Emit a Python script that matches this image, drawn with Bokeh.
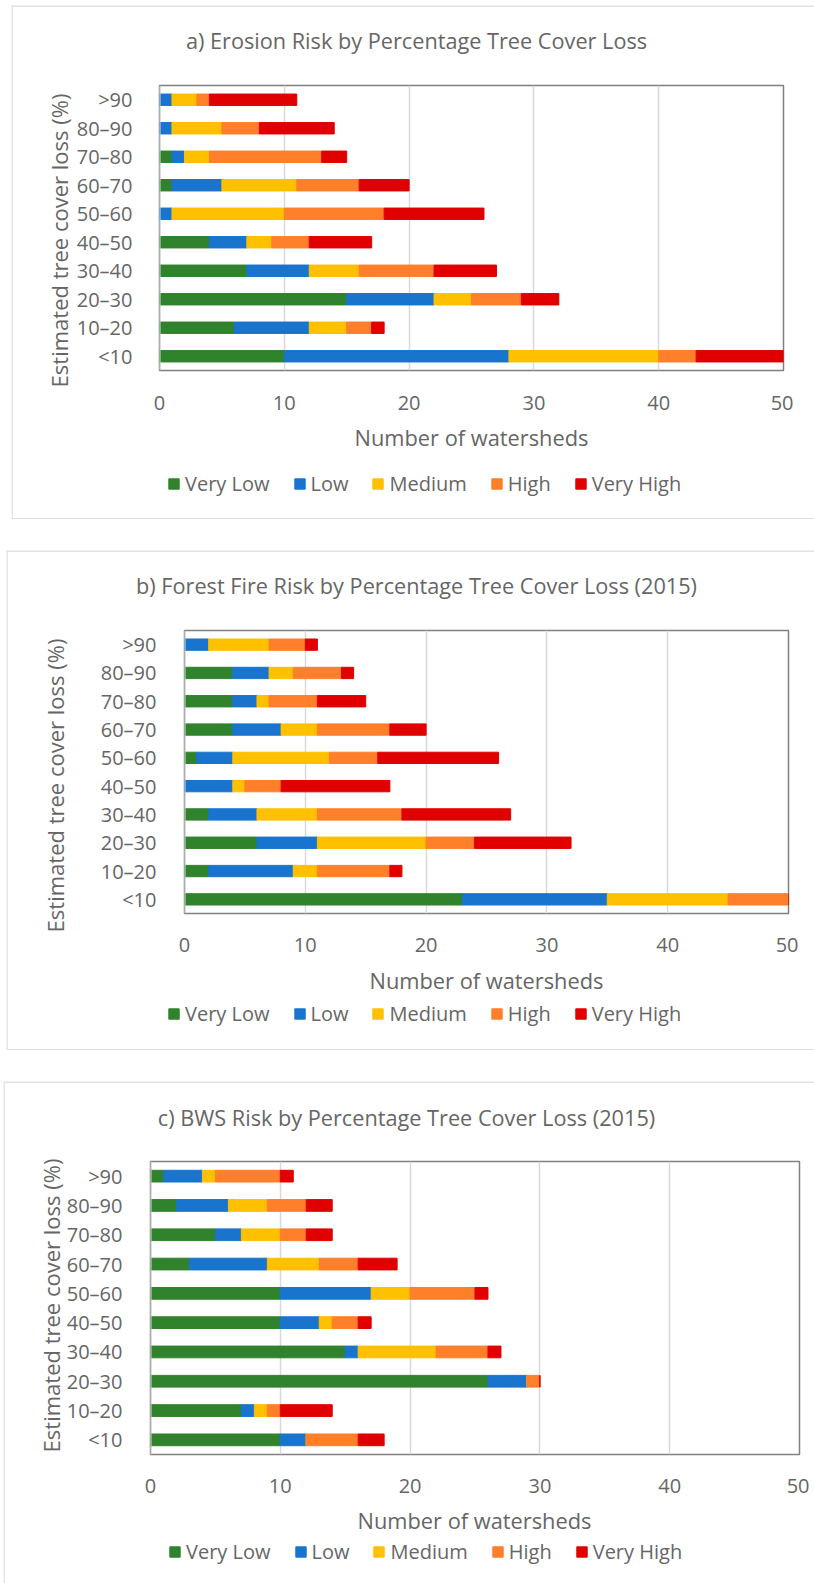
import math
from bokeh.plotting import figure
from bokeh.models import (Range1d, FixedTicker, Legend, LegendItem, Span, Label,
                          ColumnDataSource)
from bokeh.embed import file_html
from bokeh.resources import INLINE

# ---------------- data ----------------
cats = ["<10", "10\u201320", "20\u201330", "30\u201340", "40\u201350",
        "50\u201360", "60\u201370", "70\u201380", "80\u201390", ">90"]
levels = ["Very Low", "Low", "Medium", "High", "Very High"]
colors = ["#31822C", "#1874CD", "#FFC000", "#FF7F2A", "#E00000"]
x_ticks = [0, 10, 20, 30, 40, 50]

erosion_very_low = [10, 6, 15, 7, 4, 0, 1, 1, 0, 0]
erosion_low = [18, 6, 7, 5, 3, 1, 4, 1, 1, 1]
erosion_medium = [12, 3, 3, 4, 2, 9, 6, 2, 4, 2]
erosion_high = [3, 2, 4, 6, 3, 8, 5, 9, 3, 1]
erosion_very_high = [7, 1, 3, 5, 5, 8, 4, 2, 6, 7]

fire_very_low = [23, 2, 6, 2, 0, 1, 4, 4, 4, 0]
fire_low = [12, 7, 5, 4, 4, 3, 4, 2, 3, 2]
fire_medium = [10, 2, 9, 5, 1, 8, 3, 1, 2, 5]
fire_high = [5, 6, 4, 7, 3, 4, 6, 4, 4, 3]
fire_very_high = [0, 1, 8, 9, 9, 10, 3, 4, 1, 1]

bws_very_low = [10, 7, 26, 15, 10, 10, 3, 5, 2, 1]
bws_low = [2, 1, 3, 1, 3, 7, 6, 2, 4, 3]
bws_medium = [0, 1, 0, 6, 1, 3, 4, 3, 3, 1]
bws_high = [4, 1, 1, 4, 2, 5, 3, 2, 3, 5]
bws_very_high = [2, 4, 0, 1, 1, 1, 3, 2, 2, 1]

title_a = "a) Erosion Risk by Percentage Tree Cover Loss"
title_b = "b) Forest Fire Risk by Percentage Tree Cover Loss (2015)"
title_c = "c) BWS Risk by Percentage Tree Cover Loss (2015)"
x_title = "Number of watersheds"
y_title = "Estimated tree cover loss (%)"

FONT = "Open Sans"
TXT = "#666666"
GRID = "#d9d9d9"

FG_L, FG_R, FG_T, FG_B = 100, 10, 10, 60


def abs_style(left, top):
    return {"position": "absolute", "left": f"{left}px", "top": f"{top}px"}


def make_bg(box, title, title_c, xt_c, yt_c, leg_pos, bottom_line=True):
    """Panel frame: border lines, titles and legend (pixel coordinates)."""
    bx, by, bw, bh = box
    bg = figure(width=bw, height=bh, x_range=Range1d(0, bw),
                y_range=Range1d(bh, 0), x_axis_location=None,
                y_axis_location=None, min_border=0, output_backend="svg",
                toolbar_location=None, title=None)
    bg.grid.visible = False
    bg.outline_line_color = None
    bg.background_fill_color = "white"
    bg.border_fill_color = "white"
    bg.add_layout(Span(location=0.5, dimension="height", line_color=GRID,
                       line_width=1.3))
    bg.add_layout(Span(location=0.5, dimension="width", line_color=GRID,
                       line_width=1.3))
    if bottom_line:
        bg.add_layout(Span(location=bh - 0.5, dimension="width",
                           line_color=GRID, line_width=1.3))
    bg.add_layout(Label(x=title_c[0] - bx, y=title_c[1] - by, text=title,
                        text_align="center", text_baseline="middle",
                        text_font=FONT, text_font_size="21.7px",
                        text_color=TXT))
    bg.add_layout(Label(x=xt_c[0] - bx, y=xt_c[1] - by, text=x_title,
                        text_align="center", text_baseline="middle",
                        text_font=FONT, text_font_size="21.8px",
                        text_color=TXT))
    bg.add_layout(Label(x=yt_c[0] - bx, y=yt_c[1] - by, text=y_title,
                        text_align="center", text_baseline="middle",
                        angle=math.pi / 2, text_font=FONT,
                        text_font_size="22px", text_color=TXT))
    items = []
    for name, col in zip(levels, colors):
        r = bg.rect(x=[-500], y=[-500], width=1, height=1, color=col)
        items.append(LegendItem(label=name, renderers=[r]))
    lx, lcy = leg_pos
    leg = Legend(items=items, orientation="horizontal",
                 location=(lx - bx, bh - (lcy - by) - 14),
                 glyph_width=13, glyph_height=13, label_standoff=5,
                 spacing=23, padding=0, margin=0, border_line_color=None,
                 background_fill_alpha=0, label_text_font=FONT,
                 label_text_font_size="20px", label_text_color=TXT,
                 label_height=28)
    bg.add_layout(leg)
    bg.styles = abs_style(bx, by)
    return bg


def make_fg(frame, series, ystand, xstand):
    fx, fy, fw, fh = frame
    p = figure(frame_width=fw, frame_height=fh, x_range=Range1d(0, 50),
               y_range=cats, output_backend="svg", toolbar_location=None,
               title=None, min_border_left=FG_L, min_border_right=FG_R,
               min_border_top=FG_T, min_border_bottom=FG_B,
               border_fill_color=None, background_fill_color="white")
    data = {"cat": cats}
    for name, vals in zip(levels, series):
        data[name] = vals
    src = ColumnDataSource(data)
    p.hbar_stack(levels, y="cat", height=0.4, color=colors, source=src)

    p.outline_line_color = "#808080"
    p.outline_line_width = 1.5
    p.ygrid.grid_line_color = None
    p.xgrid.grid_line_color = GRID
    p.xgrid.grid_line_width = 1.5
    p.xaxis.ticker = FixedTicker(ticks=x_ticks)
    for ax in (p.xaxis[0], p.yaxis[0]):
        ax.axis_line_color = None
        ax.major_tick_line_color = None
        ax.minor_tick_line_color = None
        ax.major_label_text_font = FONT
        ax.major_label_text_font_size = "20px"
        ax.major_label_text_color = TXT
    p.yaxis.major_label_standoff = ystand
    p.xaxis.major_label_standoff = xstand
    p.add_layout(Span(location=0, dimension="height", line_color=GRID,
                      line_width=2))
    p.styles = abs_style(fx - FG_L, fy - FG_T)
    return p


bg_a = make_bg((11, 5, 803, 514), title_a, (416, 40), (471, 437), (58, 240),
               (167, 483))
fg_a = make_fg((159, 85, 624, 285),
               [erosion_very_low, erosion_low, erosion_medium, erosion_high,
                erosion_very_high], ystand=21, xstand=19)

bg_b = make_bg((6, 550, 808, 500), title_b, (416, 585), (486, 980),
               (54, 785), (167, 1013))
fg_b = make_fg((184, 630, 604, 283),
               [fire_very_low, fire_low, fire_medium, fire_high,
                fire_very_high], ystand=22, xstand=18)

bg_c = make_bg((3, 1081, 811, 502), title_c, (406, 1117), (474, 1520),
               (50, 1305), (168, 1551), bottom_line=False)
fg_c = make_fg((150, 1161, 649, 293),
               [bws_very_low, bws_low, bws_medium, bws_high, bws_very_high],
               ystand=22, xstand=18)

html = file_html([bg_a, fg_a, bg_b, fg_b, bg_c, fg_c], INLINE)
open("out.html", "w").write(html)
